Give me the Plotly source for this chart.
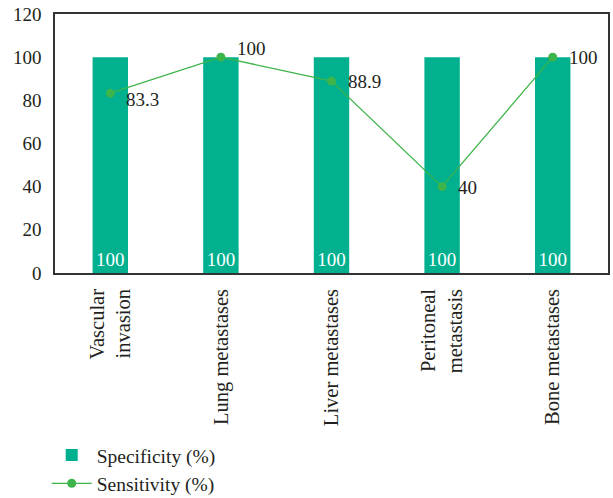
import plotly.graph_objects as go

categories = ["Vascular<br>invasion", "Lung metastases", "Liver metastases",
              "Peritoneal<br>metastasis", "Bone metastases"]
specificity = [100, 100, 100, 100, 100]
sensitivity = [83.3, 100, 88.9, 40, 100]
y_ticks = [0, 20, 40, 60, 80, 100, 120]

FONT = "Liberation Serif, DejaVu Serif, serif"
TEXT = "#231f20"
BAR = "#00b08f"
LINE = "#3db54a"

fig = go.Figure()
fig.add_trace(go.Bar(
    x=categories, y=specificity, name="Specificity (%)",
    marker=dict(color=BAR, line=dict(width=0)), width=0.32,
    text=[str(v) for v in specificity], textposition="inside",
    insidetextanchor="start", textangle=0,
    textfont=dict(family=FONT, size=19, color="white"),
))
fig.add_trace(go.Scatter(
    x=categories, y=sensitivity, name="Sensitivity (%)",
    mode="lines+markers", line=dict(color=LINE, width=1.3),
    marker=dict(color=LINE, size=9),
))

# value labels beside the sensitivity markers
shifts = [-6, 9, 0, -1, 0]
for cat, val, dy in zip(categories, sensitivity, shifts):
    fig.add_annotation(x=cat, y=val, text=f"{val:g}", showarrow=False,
                       xanchor="left", yanchor="middle", xshift=14, yshift=dy,
                       font=dict(family=FONT, size=19, color=TEXT))

fig.update_layout(
    width=613, height=498,
    margin=dict(l=55, r=5, t=14, b=225),
    plot_bgcolor="white", paper_bgcolor="white",
    font=dict(family=FONT, size=19, color=TEXT),
    bargap=0.68,
    showlegend=True,
    legend=dict(x=-0.015, xref="paper", y=0.125, yref="container",
                xanchor="left", yanchor="top",
                font=dict(family=FONT, size=19.5, color=TEXT),
                tracegroupgap=0, itemwidth=40),
)
fig.update_xaxes(
    tickangle=-90, showline=True, mirror=True, linecolor="#333333", linewidth=1.5,
    ticks="", showgrid=False, ticklabelstandoff=6, automargin=False,
    tickfont=dict(family=FONT, size=20.5, color=TEXT),
)
fig.update_yaxes(
    range=[0, 120], tickvals=y_ticks, showline=True, mirror=True,
    linecolor="#333333", linewidth=1.5, ticks="", showgrid=False,
    zeroline=False, ticklabelstandoff=8, automargin=False,
)

fig.write_html("out.html")
